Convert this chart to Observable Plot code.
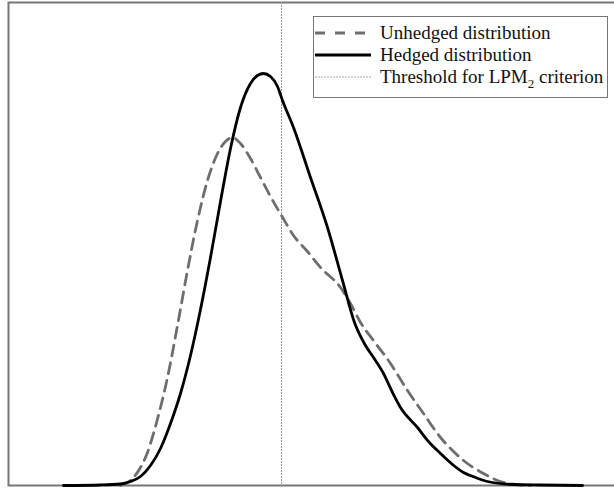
<!DOCTYPE html>
<html>
<head>
<meta charset="utf-8">
<script src="https://cdn.jsdelivr.net/npm/d3@7"></script>
<script src="https://cdn.jsdelivr.net/npm/@observablehq/plot@0.6"></script>
<style>
  html, body { margin: 0; padding: 0; background: #fff; overflow: hidden; }
  #wrap { position: relative; width: 614px; height: 488px; overflow: hidden; }
  #wrap > svg { max-width: none !important; display: block; }
  #legend {
    position: absolute; left: 313px; top: 16px; width: 295px; height: 82px;
    border: 1.5px solid #777; background: #fff; box-sizing: border-box;
    font-family: "Liberation Serif", "Times New Roman", serif; font-size: 19px; color: #111;
  }
  .row { position: absolute; left: 0; height: 22px; display: flex; align-items: center; white-space: nowrap; }
  .row svg { margin-left: 1px; margin-right: 9px; }
  sub { font-size: 13px; vertical-align: -5px; line-height: 0; }
</style>
</head>
<body>
<div id="wrap"></div>
<script>
// (horizontal position, density height), arbitrary units
const hedgedX = [63,100,120,130,140,150,160,170,180,190,200,210,220,230,240,250,257,263,270,277,282,293,310,327,342,354,365,373,383,392,400,417,428,440,452,463,475,487,513,540,582];
const hedgedY = [0,0.5,1.5,4,9,20,37,62,92,130,176,228,284,337,378,402,410,412,409,399,385,358,308,258,205,163,140,128,112,93,78,58,44,32,21,13,8,4,1,0.5,0];
const unhedgedX = [120,127,133,140,147,153,160,167,177,187,197,207,217,225,232,240,250,260,270,281,293,307,320,340,350,360,373,390,407,423,440,452,463,483,500,515,530];
const unhedgedY = [0,3,8,18,33,52,78,108,160,215,265,305,332,344,348,342,327,308,289,270,250,234,218,198,182,163,145,122,95,72,48,35,25,12,4,1,0];
const threshold = 281;
const seriesNames = ["Unhedged distribution", "Hedged distribution", "Threshold for LPM"];

const hedged = hedgedX.map((x, i) => ({x, y: hedgedY[i]}));
const unhedged = unhedgedX.map((x, i) => ({x, y: unhedgedY[i]}));

const chart = Plot.plot({
  width: 620, height: 488,
  marginLeft: 8, marginRight: 0, marginTop: 2, marginBottom: 3,
  x: {domain: [8, 620], axis: null},
  y: {domain: [0, 483], axis: null},
  marks: [
    Plot.frame({stroke: "#777", strokeWidth: 2}),
    Plot.ruleX([threshold], {stroke: "#999", strokeWidth: 1, strokeDasharray: "2,1"}),
    Plot.line(unhedged, {x: "x", y: "y", curve: "monotone-x", stroke: "#6e6e6e", strokeWidth: 2.8, strokeDasharray: "11,7"}),
    Plot.line(hedged, {x: "x", y: "y", curve: "monotone-x", stroke: "#000", strokeWidth: 2.8})
  ]
});
chart.style.maxWidth = "none";
const wrap = document.getElementById("wrap");
wrap.appendChild(chart);

const legend = document.createElement("div");
legend.id = "legend";
legend.innerHTML = `
  <div class="row" style="top:5px"><svg width="56" height="6"><line x1="0" y1="3" x2="56" y2="3" stroke="#6e6e6e" stroke-width="2.8" stroke-dasharray="10,10"/></svg><span>${seriesNames[0]}</span></div>
  <div class="row" style="top:27px"><svg width="56" height="6"><line x1="0" y1="3" x2="56" y2="3" stroke="#000" stroke-width="2.8"/></svg><span>${seriesNames[1]}</span></div>
  <div class="row" style="top:49px"><svg width="56" height="6"><line x1="0" y1="3" x2="56" y2="3" stroke="#aaa" stroke-width="1" stroke-dasharray="2,1"/></svg><span>${seriesNames[2]}<sub>2</sub> criterion</span></div>
`;
wrap.appendChild(legend);
</script>
</body>
</html>
